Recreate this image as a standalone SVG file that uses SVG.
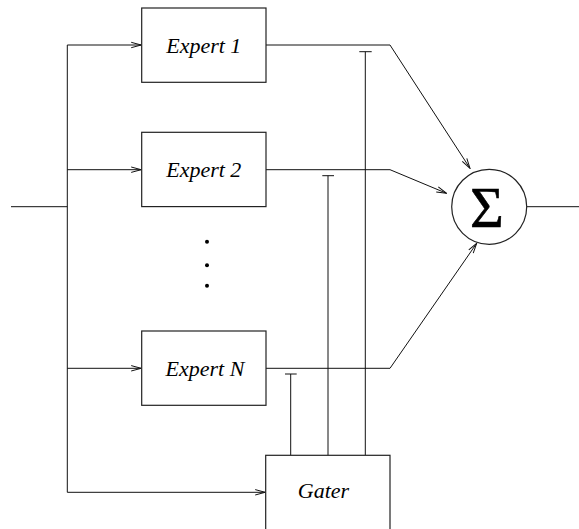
<svg xmlns="http://www.w3.org/2000/svg" width="579" height="529" viewBox="0 0 579 529">
  <style>
    .box { fill: #fff; stroke: #222; stroke-width: 1.2; }
    .wire { fill: none; stroke: #111; stroke-width: 1; }
    .lbl { font-family: 'Liberation Serif', 'DejaVu Serif', 'Times New Roman', serif; font-style: italic; font-size: 22px; fill: #000; text-anchor: middle; }
    .sum { font-family: 'Liberation Serif', 'DejaVu Serif', serif; font-size: 58px; fill: #000; stroke: #000; stroke-width: 0.6; text-anchor: middle; }
  </style>
  <defs>
    <marker id="arrow" viewBox="-11 -4 12 8" markerWidth="12" markerHeight="8" refX="0" refY="0" orient="auto" markerUnits="userSpaceOnUse">
      <path d="M-10,-2.7 L0,0 L-10,2.7" fill="none" stroke="#111" stroke-width="1"/>
    </marker>
  </defs>

  <rect width="579" height="529" fill="#fff"/>

  <g id="connectors">
    <!-- input and distribution bus -->
    <path class="wire" d="M11,206.7 H67.3"/>
    <path class="wire" d="M67.3,45 V492.3"/>
    <path class="wire" d="M67.3,45 H141.2" marker-end="url(#arrow)"/>
    <path class="wire" d="M67.3,169.7 H141.2" marker-end="url(#arrow)"/>
    <path class="wire" d="M67.3,368.3 H141.2" marker-end="url(#arrow)"/>
    <path class="wire" d="M67.3,492.3 H265.2" marker-end="url(#arrow)"/>

    <!-- expert outputs into the summing node -->
    <path class="wire" d="M266,45 H390 L470,168.3" marker-end="url(#arrow)"/>
    <path class="wire" d="M266,169.7 H390 L446.5,193.3" marker-end="url(#arrow)"/>
    <path class="wire" d="M266,368.3 H390 L476.7,243.3" marker-end="url(#arrow)"/>

    <!-- gating signals -->
    <path class="wire" d="M290.7,455.3 V374 M285,374 H296.7"/>
    <path class="wire" d="M328,455.3 V175.7 M322.3,175.7 H334"/>
    <path class="wire" d="M365.3,455.3 V51.7 M359.3,51.7 H371.7"/>

    <!-- output -->
    <path class="wire" d="M526.7,206.7 H579"/>
  </g>

  <g id="expert1">
    <rect class="box" x="141.7" y="8" width="124.3" height="74.3"/>
    <text class="lbl" x="203.8" y="52.7">Expert 1</text>
  </g>
  <g id="expert2">
    <rect class="box" x="141.7" y="132.3" width="124.3" height="74.3"/>
    <text class="lbl" x="203.8" y="177.4">Expert 2</text>
  </g>
  <g id="ellipsis">
    <circle cx="207" cy="241.7" r="2"/>
    <circle cx="207" cy="265.3" r="2"/>
    <circle cx="207" cy="285.7" r="2"/>
  </g>
  <g id="expertN">
    <rect class="box" x="141.7" y="331" width="124.3" height="74.3"/>
    <text class="lbl" x="205" y="376">Expert N</text>
  </g>
  <g id="gater">
    <rect class="box" x="265.7" y="455.3" width="124.3" height="80"/>
    <text class="lbl" x="323.5" y="498.3">Gater</text>
  </g>
  <g id="sum">
    <circle cx="489.2" cy="206.8" r="37.5" fill="#fff" stroke="#222" stroke-width="1.2"/>
    <text class="sum" x="487" y="227">Σ</text>
  </g>
</svg>
